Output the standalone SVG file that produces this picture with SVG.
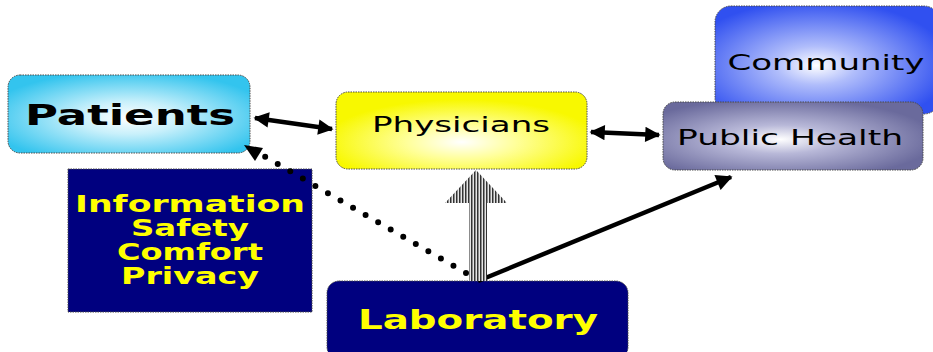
<svg xmlns="http://www.w3.org/2000/svg" width="933" height="352" viewBox="0 0 933 352">
  <style>
    .box { stroke: #4a4a4a; stroke-width: 1; stroke-dasharray: 1.5 1; }
    .lbl { font-family: "DejaVu Sans", Verdana, sans-serif; }
    .bold { font-family: "DejaVu Sans", Verdana, sans-serif; font-weight: bold; }
    .link { stroke: #000; stroke-width: 4.5; fill: none; }
  </style>
  <defs>
    <radialGradient id="gCyan" cx="0.5" cy="0.55" r="0.6">
      <stop offset="0" stop-color="#ffffff"/>
      <stop offset="0.35" stop-color="#c8f0fb"/>
      <stop offset="1" stop-color="#33c4ee"/>
    </radialGradient>
    <radialGradient id="gYellow" cx="0.5" cy="0.65" r="0.55">
      <stop offset="0" stop-color="#ffffff"/>
      <stop offset="0.4" stop-color="#ffff99"/>
      <stop offset="1" stop-color="#f8f800"/>
    </radialGradient>
    <radialGradient id="gBlue" cx="0.45" cy="0.55" r="0.6">
      <stop offset="0" stop-color="#ffffff"/>
      <stop offset="0.3" stop-color="#b0bdfb"/>
      <stop offset="1" stop-color="#3050f0"/>
    </radialGradient>
    <radialGradient id="gSlate" cx="0.45" cy="0.55" r="0.6">
      <stop offset="0" stop-color="#ffffff"/>
      <stop offset="0.35" stop-color="#b8b8d8"/>
      <stop offset="1" stop-color="#6a6a9c"/>
    </radialGradient>
    <pattern id="stripes" width="3" height="4" patternUnits="userSpaceOnUse">
      <rect width="3" height="4" fill="#e6e6e6"/>
      <rect width="1.5" height="4" fill="#333"/>
    </pattern>
    <marker id="head" viewBox="0 0 10 10" refX="9" refY="5" markerWidth="4" markerHeight="3.4" orient="auto-start-reverse" markerUnits="strokeWidth">
      <path d="M0,0 L10,5 L0,10 Z" fill="#000"/>
    </marker>
    <marker id="headSm" viewBox="0 0 10 10" refX="9" refY="5" markerWidth="4.4" markerHeight="3.6" orient="auto" markerUnits="strokeWidth">
      <path d="M0,0 L10,5 L0,10 Z" fill="#000"/>
    </marker>
  </defs>

  <g id="patients">
    <rect class="box" x="8" y="75" width="242" height="78" rx="12" fill="url(#gCyan)"/>
    <text class="bold" x="130" y="125" font-size="29" text-anchor="middle" textLength="210" lengthAdjust="spacingAndGlyphs">Patients</text>
  </g>

  <g id="physicians">
    <rect class="box" x="336" y="92" width="251" height="77" rx="12" fill="url(#gYellow)"/>
    <text class="lbl" x="461" y="132" font-size="21" text-anchor="middle" textLength="178" lengthAdjust="spacingAndGlyphs">Physicians</text>
  </g>

  <g id="community">
    <rect class="box" x="715" y="6" width="225" height="108" rx="16" fill="url(#gBlue)"/>
    <text class="lbl" x="826" y="70" font-size="21" text-anchor="middle" textLength="197" lengthAdjust="spacingAndGlyphs">Community</text>
  </g>

  <g id="public-health">
    <rect class="box" x="663" y="102" width="260" height="68" rx="12" fill="url(#gSlate)"/>
    <text class="lbl" x="790" y="145" font-size="22" text-anchor="middle" textLength="226" lengthAdjust="spacingAndGlyphs">Public Health</text>
  </g>

  <g id="needs">
    <rect class="box" x="68" y="169" width="244" height="143" fill="#00007f"/>
    <g class="bold" font-size="23" fill="#ffff00" text-anchor="middle">
      <text x="190" y="212" textLength="230" lengthAdjust="spacingAndGlyphs">Information</text>
      <text x="190" y="236" textLength="118" lengthAdjust="spacingAndGlyphs">Safety</text>
      <text x="190" y="260" textLength="146" lengthAdjust="spacingAndGlyphs">Comfort</text>
      <text x="190" y="284" textLength="138" lengthAdjust="spacingAndGlyphs">Privacy</text>
    </g>
  </g>

  <g id="laboratory">
    <rect class="box" x="327" y="281" width="301" height="78" rx="12" fill="#00007f"/>
    <text class="bold" x="478" y="329" font-size="26" fill="#ffff00" text-anchor="middle" textLength="240" lengthAdjust="spacingAndGlyphs">Laboratory</text>
  </g>

  <!-- connectors, drawn over the boxes -->
  <g id="connectors">
    <line class="link" x1="255" y1="118" x2="332" y2="129" marker-start="url(#head)" marker-end="url(#head)"/>
    <line class="link" x1="591" y1="132" x2="659" y2="135" marker-start="url(#head)" marker-end="url(#head)"/>
    <line x1="466" y1="273" x2="262" y2="155" stroke="#000" stroke-width="6" stroke-linecap="round" stroke-dasharray="0 14.5"/>
    <path d="M244,145 L263,148 L255,161 Z" fill="#000"/>
    <line class="link" x1="478" y1="281" x2="731" y2="177" marker-end="url(#headSm)"/>
    <path d="M469,281 L469,203 L445,203 L476,170 L507,203 L487,203 L487,281 Z" fill="url(#stripes)"/>
  </g>
</svg>
